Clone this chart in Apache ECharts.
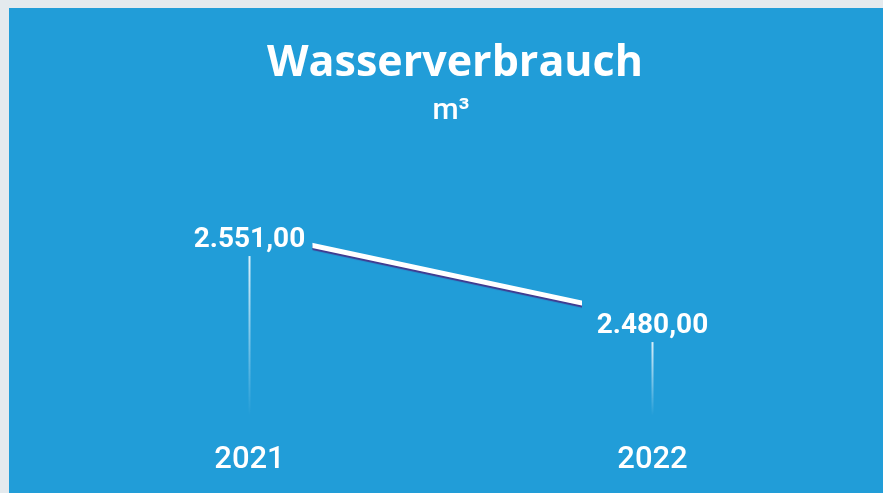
<!DOCTYPE html>
<html>
<head>
<meta charset="utf-8">
<script src="https://cdn.jsdelivr.net/npm/echarts@6/dist/echarts.min.js"></script>
<style>
  html, body { margin: 0; padding: 0; background: #e6ecf0; }
  #main {
    width: 883px; height: 493px;
    background: #219dd8;
    box-shadow: inset 9px 8px 0 #e4eaee;
  }
</style>
</head>
<body>
<div id="main"></div>
<script>
// Daten
var years = ['2021', '2022'];
var verbrauch = [2551, 2480];
var titel = 'Wasserverbrauch';
var einheit = 'm³';

// deutsche Zahl: 2.551,00
var deZahl = function(v) {
  var parts = v.toFixed(2).split('.');
  return parts[0].replace(/\B(?=(\d{3})+(?!\d))/g, '.') + ',' + parts[1];
};

var chart = echarts.init(document.getElementById('main'));

var option = {
  backgroundColor: 'transparent',
  title: [
    {
      text: titel,
      left: 450,
      textAlign: 'center',
      top: 37,
      textStyle: { color: '#fff', fontFamily: 'Open Sans', fontWeight: 'bold', fontSize: 43 }
    },
    {
      text: einheit,
      left: 446,
      textAlign: 'center',
      top: 91,
      textStyle: { color: '#fff', fontFamily: 'Roboto', fontWeight: 500, fontSize: 30 }
    }
  ],
  grid: { left: 48, right: 29, top: 100, bottom: 78 },
  xAxis: {
    type: 'category',
    data: years,
    boundaryGap: true,
    axisLine: { show: false },
    axisTick: { show: false },
    axisLabel: {
      color: '#fff',
      fontFamily: 'Roboto',
      fontWeight: 500,
      fontSize: 31,
      margin: 30
    }
  },
  yAxis: {
    type: 'value',
    min: 2400,
    max: 2660,
    show: false,
    splitLine: { show: false }
  },
  series: [
    {
      // senkrechte Linien unter den Werten
      type: 'custom',
      data: verbrauch.map(function(v, i) { return [i, v]; }),
      renderItem: function(params, api) {
        var p = api.coord([api.value(0), api.value(1)]);
        var base = api.coord([api.value(0), 2400]);
        return {
          type: 'line',
          shape: { x1: p[0], y1: p[1] + 24, x2: p[0], y2: base[1] },
          style: {
            lineWidth: 2,
            stroke: new echarts.graphic.LinearGradient(0, 0, 0, 1, [
              { offset: 0, color: 'rgba(255,255,255,0.85)' },
              { offset: 1, color: 'rgba(255,255,255,0)' }
            ])
          }
        };
      },
      silent: true,
      z: 1
    },
    {
      type: 'line',
      data: verbrauch,
      symbol: 'circle',
      symbolSize: 1,
      itemStyle: { color: 'rgba(0,0,0,0)' },
      lineStyle: {
        width: 5,
        color: new echarts.graphic.LinearGradient(0, 0, 1, 0, [
          { offset: 0, color: 'rgba(255,255,255,0)' },
          { offset: 0.16, color: 'rgba(255,255,255,0)' },
          { offset: 0.161, color: '#ffffff' },
          { offset: 0.82, color: '#ffffff' },
          { offset: 0.821, color: 'rgba(255,255,255,0)' },
          { offset: 1, color: 'rgba(255,255,255,0)' }
        ]),
        shadowColor: 'rgba(70,40,130,0.85)',
        shadowOffsetY: 2,
        shadowBlur: 1
      },
      label: {
        show: true,
        position: 'inside',
        offset: [0, 8],
        color: '#fff',
        fontFamily: 'Roboto',
        fontWeight: 'bold',
        fontSize: 28,
        formatter: function(p) { return deZahl(p.value); }
      },
      z: 2
    }
  ]
};

chart.setOption(option);
</script>
</body>
</html>
